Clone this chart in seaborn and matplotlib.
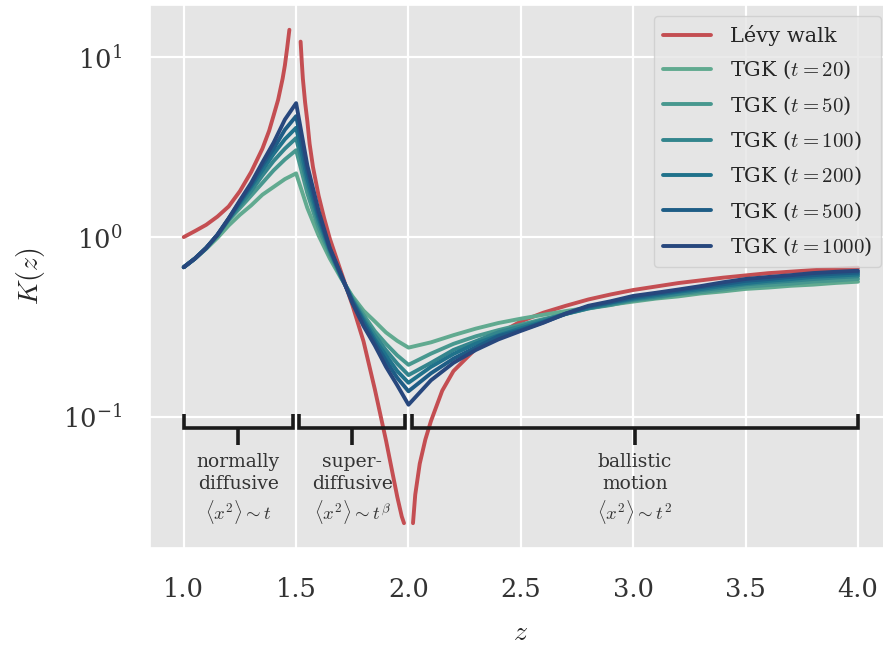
import matplotlib
matplotlib.use("Agg")
import matplotlib.pyplot as plt
import pandas as pd
import seaborn as sns

# ─────────────────────────────────────────────
# Data
# ─────────────────────────────────────────────

# Lévy walk K(z), three branches (diverges at z=1.5, vanishes at z=2)
levy_z_left = [1.0, 1.05, 1.1, 1.15, 1.2, 1.25, 1.3, 1.35, 1.38, 1.4, 1.42, 1.44, 1.45, 1.46, 1.47]
levy_k_left = [1.0, 1.08, 1.17, 1.3, 1.48, 1.8, 2.3, 3.1, 3.9, 4.75, 5.8, 7.6, 9.0, 11.2, 14.2]
levy_z_mid = [1.52, 1.525, 1.53, 1.54, 1.55, 1.56, 1.575, 1.6, 1.625, 1.65, 1.7, 1.75, 1.8,
              1.85, 1.9, 1.93, 1.95, 1.97, 1.98]
levy_k_mid = [12.2, 9.5, 7.6, 5.6, 4.4, 3.3, 2.45, 1.7, 1.27, 0.98, 0.64, 0.42, 0.263,
              0.143, 0.074, 0.048, 0.036, 0.028, 0.0257]
levy_z_right = [2.02, 2.03, 2.05, 2.075, 2.1, 2.15, 2.2, 2.3, 2.4, 2.5, 2.6, 2.7, 2.8, 2.9,
                3.0, 3.2, 3.4, 3.6, 3.8, 4.0]
levy_k_right = [0.0257, 0.037, 0.055, 0.075, 0.095, 0.14, 0.18, 0.24, 0.29, 0.34, 0.38,
                0.415, 0.45, 0.48, 0.508, 0.555, 0.595, 0.63, 0.655, 0.676]

# TGK estimates, shared z grid
tgk_z = [1.0, 1.05, 1.1, 1.15, 1.2, 1.25, 1.3, 1.35, 1.4, 1.45, 1.5,
         1.55, 1.6, 1.65, 1.7, 1.75, 1.8, 1.85, 1.9, 1.95, 2.0,
         2.1, 2.2, 2.3, 2.4, 2.5, 2.6, 2.7, 2.8, 2.9, 3.0,
         3.1, 3.2, 3.3, 3.4, 3.5, 3.6, 3.7, 3.8, 3.9, 4.0]
tgk_times = [20, 50, 100, 200, 500, 1000]
tgk_t20 = [0.68, 0.76, 0.86, 0.99, 1.16, 1.33, 1.5, 1.72, 1.9, 2.1, 2.26,
           1.45, 1.02, 0.76, 0.59, 0.47, 0.39, 0.34, 0.295, 0.265, 0.243,
           0.26, 0.285, 0.31, 0.333, 0.352, 0.37, 0.388, 0.405, 0.421, 0.438,
           0.455, 0.468, 0.486, 0.499, 0.515, 0.524, 0.536, 0.544, 0.556, 0.565]
tgk_t50 = [0.68, 0.76, 0.87, 1.02, 1.24, 1.45, 1.7, 2.0, 2.35, 2.7, 3.04,
           1.75, 1.12, 0.8, 0.6, 0.46, 0.37, 0.3, 0.255, 0.22, 0.195,
           0.225, 0.255, 0.281, 0.304, 0.326, 0.35, 0.374, 0.401, 0.419, 0.445,
           0.459, 0.481, 0.494, 0.511, 0.529, 0.541, 0.55, 0.566, 0.574, 0.585]
tgk_t100 = [0.68, 0.76, 0.87, 1.02, 1.25, 1.5, 1.8, 2.2, 2.65, 3.1, 3.55,
            1.95, 1.2, 0.83, 0.6, 0.45, 0.355, 0.285, 0.235, 0.198, 0.171,
            0.2, 0.236, 0.264, 0.296, 0.319, 0.346, 0.374, 0.401, 0.424, 0.45,
            0.466, 0.484, 0.506, 0.524, 0.546, 0.559, 0.571, 0.584, 0.596, 0.605]
tgk_t200 = [0.68, 0.76, 0.87, 1.03, 1.26, 1.55, 1.9, 2.35, 2.9, 3.5, 4.05,
            2.1, 1.27, 0.85, 0.61, 0.445, 0.345, 0.27, 0.22, 0.18, 0.155,
            0.19, 0.224, 0.256, 0.284, 0.311, 0.339, 0.376, 0.404, 0.431, 0.455,
            0.474, 0.496, 0.514, 0.536, 0.554, 0.571, 0.584, 0.601, 0.609, 0.62]
tgk_t500 = [0.68, 0.76, 0.87, 1.03, 1.27, 1.58, 1.95, 2.5, 3.1, 3.95, 4.7,
            2.3, 1.33, 0.86, 0.61, 0.44, 0.335, 0.26, 0.205, 0.165, 0.139,
            0.175, 0.211, 0.244, 0.281, 0.304, 0.336, 0.374, 0.411, 0.434, 0.462,
            0.483, 0.502, 0.526, 0.547, 0.571, 0.584, 0.601, 0.614, 0.626, 0.635]
tgk_t1000 = [0.68, 0.76, 0.87, 1.03, 1.27, 1.6, 2.0, 2.6, 3.35, 4.5, 5.55,
             2.5, 1.4, 0.87, 0.62, 0.43, 0.32, 0.25, 0.19, 0.15, 0.117,
             0.16, 0.2, 0.236, 0.27, 0.301, 0.334, 0.376, 0.415, 0.44, 0.471,
             0.49, 0.511, 0.534, 0.561, 0.585, 0.6, 0.614, 0.631, 0.641, 0.65]
tgk_values = [tgk_t20, tgk_t50, tgk_t100, tgk_t200, tgk_t500, tgk_t1000]

# diffusion regimes annotated under the curves
regime_bounds = [(1.0, 1.485), (1.515, 1.985), (2.015, 4.0)]
regime_labels = [
    "normally\ndiffusive\n" + r"$\langle x^2\rangle \sim t$",
    "super-\ndiffusive\n" + r"$\langle x^2\rangle \sim t^\beta$",
    "ballistic\nmotion\n" + r"$\langle x^2\rangle \sim t^2$",
]

# ─────────────────────────────────────────────
# Long dataframe for seaborn
# ─────────────────────────────────────────────
rows = []
for branch, (zs, ks) in enumerate(
    [(levy_z_left, levy_k_left), (levy_z_mid, levy_k_mid), (levy_z_right, levy_k_right)]
):
    for z, k in zip(zs, ks):
        rows.append({"z": z, "K": k, "series": "Lévy walk", "branch": f"levy{branch}"})
for t, vals in zip(tgk_times, tgk_values):
    for z, k in zip(tgk_z, vals):
        rows.append({"z": z, "K": k, "series": f"TGK ($t={t}$)", "branch": f"tgk{t}"})
df = pd.DataFrame(rows)

series_order = ["Lévy walk"] + [f"TGK ($t={t}$)" for t in tgk_times]
tgk_colors = sns.color_palette("crest", 7)[1:]
palette = dict(zip(series_order, [sns.color_palette("deep")[3]] + tgk_colors))

# ─────────────────────────────────────────────
# Plot
# ─────────────────────────────────────────────
sns.set_theme(
    style="darkgrid",
    rc={
        "axes.facecolor": "#e5e5e5",
        "grid.color": "white",
        "grid.linewidth": 1.6,
        "xtick.major.pad": 15,
        "ytick.major.pad": 14,
    },
)
plt.rcParams["font.family"] = ["DejaVu Serif"]
plt.rcParams["mathtext.fontset"] = "cm"

fig = plt.figure(figsize=(8.83, 6.47), dpi=100)
ax = fig.add_axes([0.1699, 0.153, 0.840, 0.839])

sns.lineplot(
    data=df,
    x="z",
    y="K",
    hue="series",
    hue_order=series_order,
    palette=palette,
    units="branch",
    estimator=None,
    sort=False,
    linewidth=2.8,
    ax=ax,
)

ax.set_yscale("log")
ax.set_xlim(0.85, 4.15)
ax.set_ylim(0.0187, 19.45)
ax.set_xticks([1.0, 1.5, 2.0, 2.5, 3.0, 3.5, 4.0])
ax.tick_params(labelsize=18.5, colors="#333333")
ax.minorticks_off()
ax.set_xlabel("$z$", fontsize=20, labelpad=12)
ax.set_ylabel("$K(z)$", fontsize=20, labelpad=12)

# regime brackets + labels
for (a, b), label in zip(regime_bounds, regime_labels):
    mid = (a + b) / 2
    ax.plot([a, a, b, b], [0.104, 0.087, 0.087, 0.104], color="#1a1a1a", lw=2.6,
            solid_joinstyle="miter", solid_capstyle="butt")
    ax.plot([mid, mid], [0.087, 0.0698], color="#1a1a1a", lw=2.6, solid_capstyle="butt")
    ax.text(mid, 0.063, label, ha="center", va="top", fontsize=13.5,
            color="#333333", linespacing=1.25)

leg = ax.legend(loc="upper right", fontsize=15, frameon=True, handlelength=2.3,
                labelspacing=0.62, borderpad=0.45, handletextpad=0.9)
leg.get_frame().set_facecolor("#e5e5e5")
leg.get_frame().set_edgecolor("#cccccc")
for line in leg.get_lines():
    line.set_linewidth(2.8)

fig.savefig("out.png", dpi=100)
